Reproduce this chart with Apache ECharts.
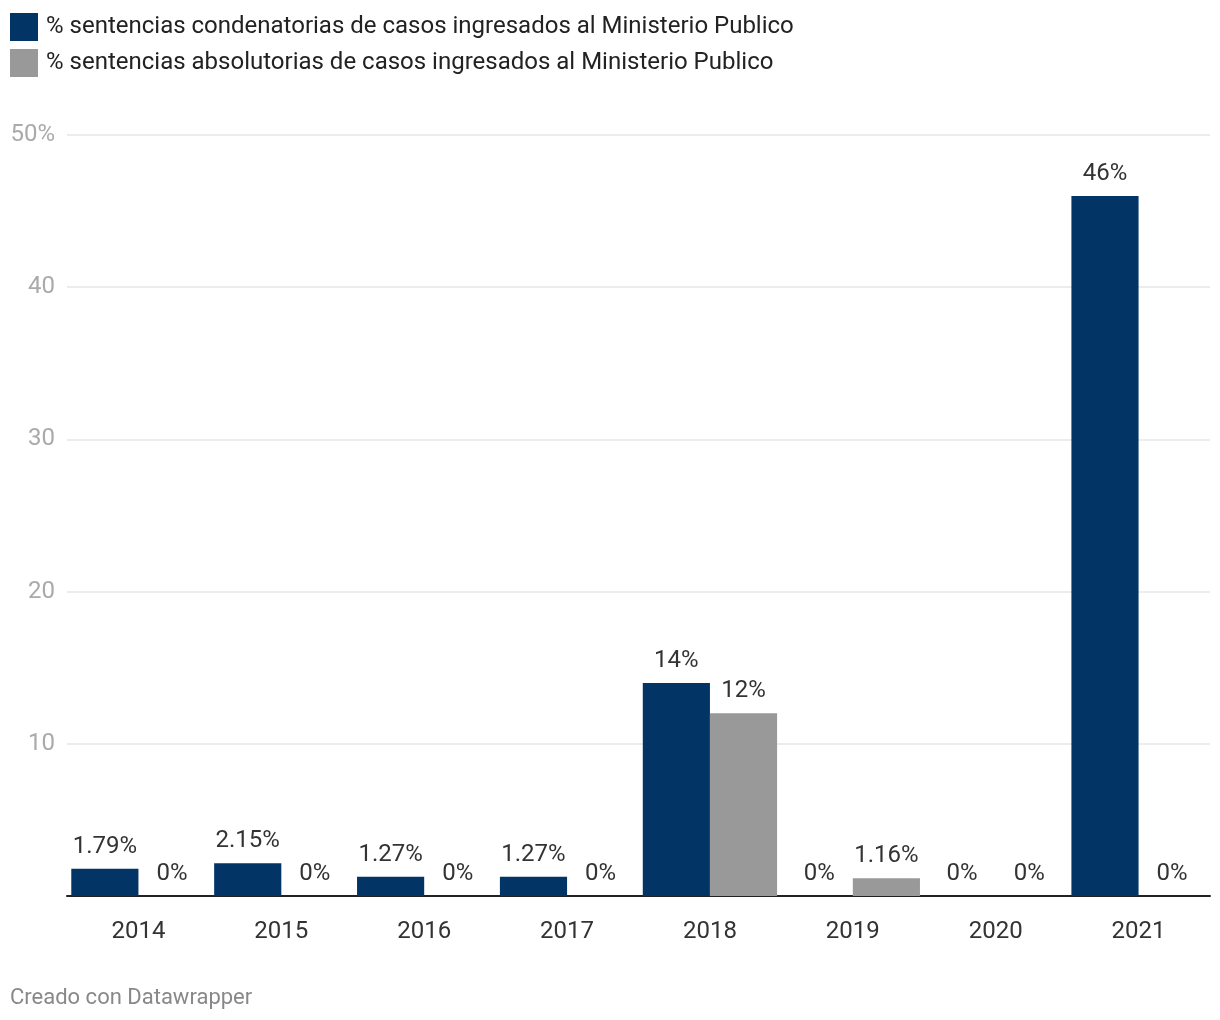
<!DOCTYPE html>
<html>
<head>
<meta charset="utf-8">
<script src="https://cdn.jsdelivr.net/npm/echarts@6/dist/echarts.min.js"></script>
<style>
  html, body { margin: 0; padding: 0; background: #fff; }
  #chart { width: 1220px; height: 1020px; }
</style>
</head>
<body>
<div id="chart"></div>
<script>
const years = ['2014', '2015', '2016', '2017', '2018', '2019', '2020', '2021']
const condenatorias = [1.79, 2.15, 1.27, 1.27, 14, 0, 0, 46]
const absolutorias = [0, 0, 0, 0, 12, 1.16, 0, 0]
const seriesNames = [
  '% sentencias condenatorias de casos ingresados al Ministerio Publico',
  '% sentencias absolutorias de casos ingresados al Ministerio Publico'
]
const colors = ['#023466', '#999999']

const font = 'Roboto, "Noto Sans", sans-serif'

// etiqueta encima de cada barra
const barLabel = {
  show: true,
  position: 'top',
  distance: 10,
  fontFamily: font,
  fontSize: 24,
  color: '#333',
  formatter: p => p.value + '%'
}

const chart = echarts.init(document.getElementById('chart'))

chart.setOption({
  backgroundColor: '#fff',
  animation: false,
  color: colors,
  textStyle: { fontFamily: font },
  legend: {
    orient: 'vertical',
    left: 5,
    top: 8,
    itemWidth: 28,
    itemHeight: 28,
    itemGap: 8,
    icon: 'rect',
    selectedMode: false,
    textStyle: { fontSize: 24, color: '#222', padding: [3, 0, 0, 3] },
    data: seriesNames
  },
  graphic: [{
    type: 'text',
    left: 10,
    top: 987,
    style: { text: 'Creado con Datawrapper', fontSize: 22, fill: '#888', fontFamily: font }
  }],
  grid: { left: 67, right: 10, top: 135, bottom: 124, containLabel: false },
  xAxis: {
    type: 'category',
    data: years,
    axisLine: { lineStyle: { color: '#222', width: 2 } },
    axisTick: { alignWithLabel: true, length: 8, lineStyle: { color: '#222', width: 2 } },
    axisLabel: { fontSize: 24, color: '#333', margin: 24 }
  },
  yAxis: {
    type: 'value',
    min: 0,
    max: 50,
    interval: 10,
    axisLine: { show: false },
    axisTick: { show: false },
    splitLine: { lineStyle: { color: '#e6e6e6', width: 1.5 } },
    axisLabel: {
      fontSize: 24,
      color: '#aaa',
      margin: 12,
      formatter: v => v === 0 ? '' : (v === 50 ? v + '%' : v)
    }
  },
  series: [
    {
      name: seriesNames[0],
      type: 'bar',
      data: condenatorias,
      barGap: '0%',
      barCategoryGap: '6%',
      label: barLabel
    },
    {
      name: seriesNames[1],
      type: 'bar',
      data: absolutorias,
      barGap: '0%',
      barCategoryGap: '6%',
      label: barLabel
    }
  ]
})
</script>
</body>
</html>
